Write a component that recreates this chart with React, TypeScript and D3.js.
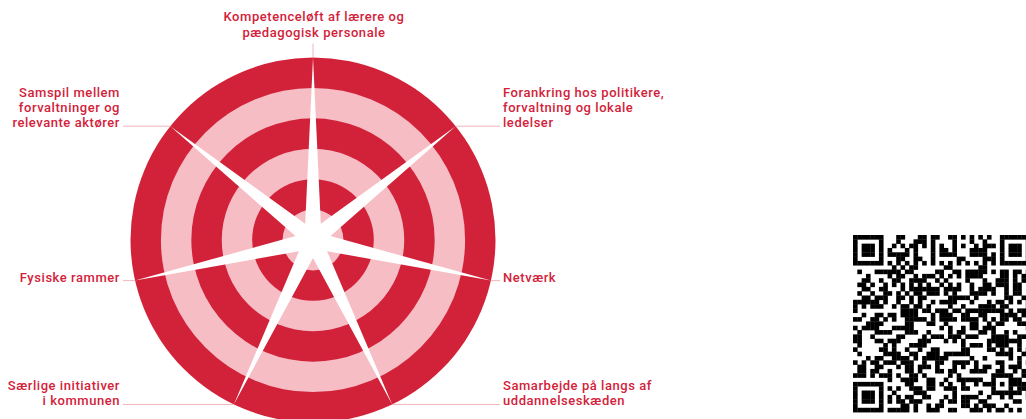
import React from "react";
import * as d3 from "d3";

// ---- data ----
const categories: string[][] = [
  ["Kompetenceløft af lærere og", "pædagogisk personale"],
  ["Forankring hos politikere,", "forvaltning og lokale", "ledelser"],
  ["Netværk"],
  ["Samarbejde på langs af", "uddannelseskæden"],
  ["Særlige initiativer", "i kommunen"],
  ["Fysiske rammer"],
  ["Samspil mellem", "forvaltninger og", "relevante aktører"],
];
const values: number[] = [6, 6, 6, 6, 6, 6, 6];
const ringLevels: number[] = [1, 2, 3, 4, 5, 6];
const maxLevel = 6;

// ---- layout ----
const W = 1026;
const H = 419;
const cx = 313;
const cy = 240;
const R = 182.5;
const innerStar = 18;
const RED = "#d2223a";
const PINK = "#f6bdc5";
const LEADER = "#f3b4bd";
const FONT = "Roboto, 'Noto Sans', sans-serif";
const FS = 13;
const LH = 15.2;
const LS = 0.55;

function qrMatrix(n: number): boolean[][] {
  const m: (boolean | null)[][] = Array.from({ length: n }, () => Array(n).fill(null));
  const finder = (r0: number, c0: number) => {
    for (let r = -1; r <= 7; r++)
      for (let c = -1; c <= 7; c++) {
        const rr = r0 + r, cc = c0 + c;
        if (rr < 0 || cc < 0 || rr >= n || cc >= n) continue;
        const inRing = r >= 0 && r <= 6 && c >= 0 && c <= 6 && (r === 0 || r === 6 || c === 0 || c === 6);
        const inCore = r >= 2 && r <= 4 && c >= 2 && c <= 4;
        m[rr][cc] = inRing || inCore;
      }
  };
  finder(0, 0);
  finder(0, n - 7);
  finder(n - 7, 0);
  for (let i = 8; i < n - 8; i++) {
    m[6][i] = i % 2 === 0;
    m[i][6] = i % 2 === 0;
  }
  const a = n - 7;
  for (let r = -2; r <= 2; r++)
    for (let c = -2; c <= 2; c++)
      m[a + r][a + c] = Math.max(Math.abs(r), Math.abs(c)) !== 1;
  let s = 12345;
  for (let r = 0; r < n; r++)
    for (let c = 0; c < n; c++)
      if (m[r][c] === null) {
        s = (s * 1103515245 + 12345) & 0x7fffffff;
        m[r][c] = ((s >> 16) & 1) === 1;
      }
  return m as boolean[][];
}

export default function App() {
  const n = categories.length;
  const step = (2 * Math.PI) / n;
  const rScale = d3.scaleLinear().domain([0, maxLevel]).range([0, R]);

  const starPts: [number, number][] = [];
  values.forEach((v, i) => {
    starPts.push([i * step, rScale(v)]);
    starPts.push([i * step + step / 2, innerStar]);
  });
  const starPath = d3.lineRadial<[number, number]>()
    .angle((d) => d[0])
    .radius((d) => d[1])
    .curve(d3.curveLinearClosed)(starPts) as string;

  const tip = (i: number) => {
    const a = i * step;
    const r = rScale(values[i]);
    return [cx + r * Math.sin(a), cy - r * Math.cos(a)];
  };

  const qrN = 41;
  const qrMod = 4.32;
  const qrX = 853;
  const qrY = 235;
  const qr = qrMatrix(qrN);

  return (
    <svg width={W} height={H} style={{ position: "absolute", left: 0, top: 0, background: "#fff" }}>
      <g>
        {ringLevels.slice().reverse().map((lv) => (
          <circle key={lv} cx={cx} cy={cy} r={rScale(lv)} fill={lv % 2 === 0 ? RED : PINK} />
        ))}
        <path d={starPath} transform={`translate(${cx},${cy})`} fill="#fff" />
      </g>
      <g fontFamily={FONT} fontSize={FS} fontWeight={500} fill={RED} letterSpacing={LS}>
        {categories.map((lines, i) => {
          const [tx, ty] = tip(i);
          const a = i * step;
          const sx = Math.sin(a);
          if (Math.abs(sx) < 0.01) {
            const yLast = ty - 21;
            return (
              <g key={i}>
                <line x1={tx} x2={tx} y1={ty} y2={ty - 14} stroke={LEADER} strokeWidth={1} />
                <text textAnchor="middle">
                  {lines.map((t, j) => (
                    <tspan key={j} x={tx + 1} y={yLast - (lines.length - 1 - j) * LH}>{t}</tspan>
                  ))}
                </text>
              </g>
            );
          }
          const right = sx > 0;
          const lx = right ? cx + 187 : cx - 190;
          const txx = right ? cx + 190 : cx - 193;
          return (
            <g key={i}>
              <line x1={tx} x2={lx} y1={ty} y2={ty} stroke={LEADER} strokeWidth={1} />
              <text textAnchor={right ? "start" : "end"}>
                {lines.map((t, j) => (
                  <tspan key={j} x={txx} y={ty + 1 - (lines.length - 1 - j) * LH}>{t}</tspan>
                ))}
              </text>
            </g>
          );
        })}
      </g>
      <g>
        {qr.map((row, r) =>
          row.map((on, c) =>
            on ? (
              <rect key={`${r}-${c}`} x={qrX + c * qrMod} y={qrY + r * qrMod} width={qrMod + 0.3} height={qrMod + 0.3} fill="#000" />
            ) : null
          )
        )}
      </g>
    </svg>
  );
}
